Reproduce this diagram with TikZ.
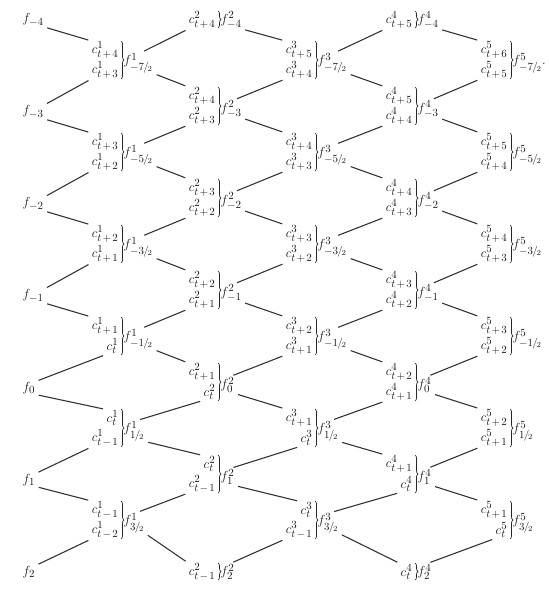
\documentclass[tikz,border=0pt]{standalone}
\usetikzlibrary{decorations.pathreplacing}
\DeclareMathSizes{12}{12}{10}{7}
\newcommand\tidx[1]{\ifnum#1>0 t\mkern2mu{+}\mkern2mu#1\else\ifnum#1=0 t\else t\mkern2mu{-}\mkern2mu\number-#1\fi\fi}
\newcommand\half[1]{#1\mkern-1mu/\mkern-2mu{}_{2}}
\newcommand\lab[1]{\scalebox{1.1}{#1}}
\begin{document}
\begin{tikzpicture}[x=1bp,y=-1bp,
  font=\fontsize{12}{14}\selectfont,
  lbl/.style={inner sep=0.5pt, text=black!90},
  conn/.style={line width=1.1pt, draw=black!80, shorten <=3bp, shorten >=3bp},
  brc/.style={draw=black!85, decorate, decoration={brace, amplitude=3bp}, line width=0.7pt}]
\useasboundingbox (0,0) rectangle (549,596);
% column 0
\foreach \r in {0,2,4,6,8,10,12} {
  \pgfmathtruncatemacro\n{(\r-8)/2}
  \pgfmathtruncatemacro\y{20+46*\r}
  \node[lbl, anchor=west] (f-0-\r) at (22,\y) {\lab{$f_{\n}$}};
}
% columns 1..5
\foreach \j/\bx in {1/121,2/218,3/315,4/415,5/510} {
  \pgfmathtruncatemacro\odd{mod(\j,2)}
  \ifnum\odd=1 \def\rows{1,3,5,7,9,11}\else\def\rows{0,2,4,6,8,10,12}\fi
  \foreach \r in \rows {
    \pgfmathtruncatemacro\y{20+46*\r}
    \pgfmathtruncatemacro\up{(\j+8-\r)/2}
    \pgfmathtruncatemacro\lo{\up-1}
    \pgfmathtruncatemacro\num{\r-8}
    \pgfmathtruncatemacro\absn{abs(\num)}
    \ifnum\odd=1
      \ifnum\num<0 \def\fs{-\half{\absn}}\else\def\fs{\half{\absn}}\fi
    \else
      \pgfmathtruncatemacro\fs{\num/2}
    \fi
    \ifnum\r=0
      \node[lbl, anchor=east] (c-\j-\r-l) at ({\bx-2},\y) {\lab{$c^{\j}_{\tidx{\lo}}$}};
      \draw[brc] (\bx,{\y-9}) -- (\bx,{\y+8});
      \node[lbl, anchor=west] (f-\j-\r) at ({\bx+2},\y) {\lab{$f^{\j}_{\fs}$}};
    \else\ifnum\r=12
      \node[lbl, anchor=east] (c-\j-\r-u) at ({\bx-2},\y) {\lab{$c^{\j}_{\tidx{\up}}$}};
      \draw[brc] (\bx,{\y-9}) -- (\bx,{\y+8});
      \node[lbl, anchor=west] (f-\j-\r) at ({\bx+2},\y) {\lab{$f^{\j}_{\fs}$}};
    \else
      \node[lbl, anchor=east] (c-\j-\r-u) at ({\bx-2},{\y-16}) {\lab{$c^{\j}_{\tidx{\up}}$}};
      \node[lbl, anchor=east] (c-\j-\r-l) at ({\bx-2},{\y+4}) {\lab{$c^{\j}_{\tidx{\lo}}$}};
      \draw[brc] (\bx,{\y-25}) -- (\bx,{\y+13});
      \node[lbl, anchor=west] (f-\j-\r) at ({\bx+2},{\y-3}) {\lab{$f^{\j}_{\fs}$\ifnum\j=5 \ifnum\r=1 .\fi\fi}};
    \fi\fi
  }
}
% connectors
\foreach \j in {0,1,2,3,4} {
  \pgfmathtruncatemacro\jn{\j+1}
  \pgfmathtruncatemacro\odd{mod(\j,2)}
  \ifnum\odd=1 \def\rows{1,3,5,7,9,11}\else\def\rows{0,2,4,6,8,10,12}\fi
  \foreach \r in \rows {
    \pgfmathtruncatemacro\ra{\r-1}
    \pgfmathtruncatemacro\rb{\r+1}
    \ifnum\r>0
      \ifnum\j=0
        \draw[conn] (f-\j-\r.north east) -- (c-\jn-\ra-l.south west);
      \else
        \draw[conn] ([xshift=3bp]f-\j-\r.north) -- (c-\jn-\ra-l.south west);
      \fi
    \fi
    \ifnum\r<12
      \draw[conn] (f-\j-\r.south east) -- (c-\jn-\rb-u.north west);
    \fi
  }
}
\end{tikzpicture}
\end{document}
